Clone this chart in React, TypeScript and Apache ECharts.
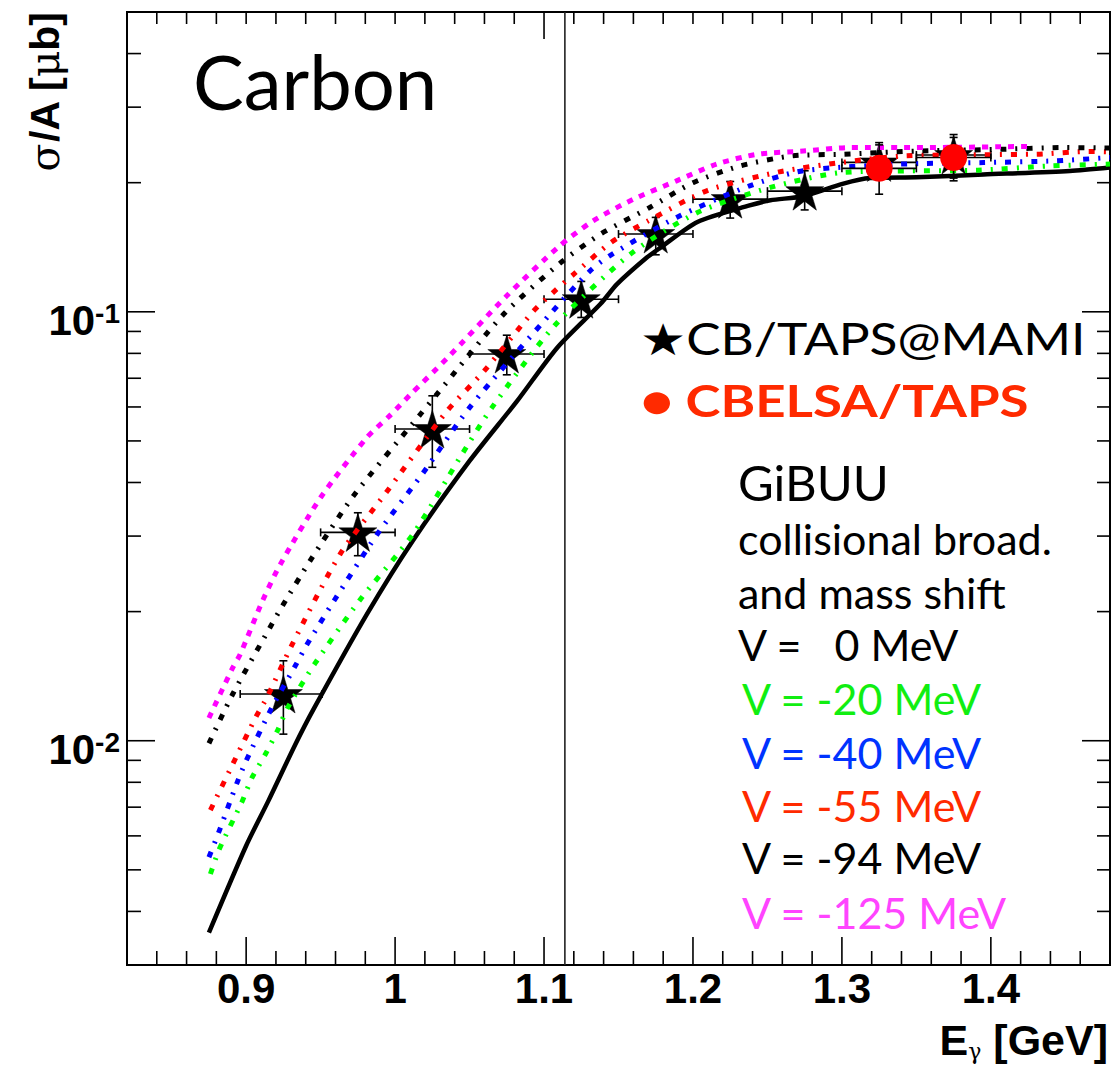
import React, { useEffect, useRef } from "react";
import * as echarts from "echarts";

// Axis ranges
const X_MIN = 0.82;
const X_MAX = 1.48;
const Y_MIN = 0.003;
const Y_MAX = 0.5;
const THRESHOLD_X = 1.114;

// Tick positions
const xMajorTicks = [0.9, 1.0, 1.1, 1.2, 1.3, 1.4];
const xMinorTicks = [0.84, 0.86, 0.88, 0.92, 0.94, 0.96, 0.98, 1.02, 1.04, 1.06, 1.08, 1.12, 1.14, 1.16, 1.18, 1.22, 1.24, 1.26, 1.28, 1.32, 1.34, 1.36, 1.38, 1.42, 1.44, 1.46];
const yMajorTicks = [0.01, 0.1];
const yMinorTicks = [0.004, 0.005, 0.006, 0.007, 0.008, 0.009, 0.02, 0.03, 0.04, 0.05, 0.06, 0.07, 0.08, 0.09, 0.2, 0.3, 0.4];

// GiBUU calculations, V = 0 MeV (solid)
const v0X = [0.875, 0.9, 0.915, 0.933, 0.945, 0.981, 1.012, 1.05, 1.082, 1.109, 1.138, 1.149, 1.169, 1.178, 1.203, 1.238, 1.252, 1.274, 1.301, 1.319, 1.35, 1.395, 1.453, 1.48];
const v0Y = [0.00357, 0.00569, 0.00725, 0.0098, 0.0118, 0.0197, 0.0293, 0.0449, 0.062, 0.0826, 0.1044, 0.116, 0.1338, 0.141, 0.162, 0.177, 0.182, 0.186, 0.199, 0.205, 0.206, 0.209, 0.213, 0.217];

// V = -20 MeV
const v20X = [0.876, 0.882, 0.897, 0.904, 0.913, 0.921, 0.928, 0.946, 0.976, 1.012, 1.044, 1.065, 1.107, 1.158, 1.203, 1.252, 1.301, 1.391, 1.44, 1.48];
const v20Y = [0.00489, 0.00559, 0.00718, 0.00821, 0.00931, 0.01055, 0.01196, 0.0151, 0.0212, 0.0303, 0.046, 0.0598, 0.0928, 0.1363, 0.1704, 0.195, 0.2113, 0.2139, 0.2189, 0.221];

// V = -40 MeV
const v40X = [0.875, 0.882, 0.894, 0.9, 0.917, 0.933, 0.941, 0.959, 0.988, 1.019, 1.05, 1.106, 1.131, 1.144, 1.189, 1.238, 1.274, 1.339, 1.395, 1.444, 1.48];
const v40Y = [0.00535, 0.00617, 0.008, 0.00898, 0.0119, 0.01495, 0.0168, 0.0212, 0.0303, 0.0422, 0.0598, 0.1005, 0.1246, 0.1351, 0.166, 0.1966, 0.2132, 0.2209, 0.2228, 0.2249, 0.229];

// V = -55 MeV
const v55X = [0.876, 0.891, 0.907, 0.914, 0.931, 0.963, 0.994, 1.035, 1.06, 1.093, 1.106, 1.12, 1.145, 1.17, 1.21, 1.258, 1.3, 1.343, 1.431, 1.466, 1.48];
const v55Y = [0.00689, 0.00882, 0.01144, 0.01262, 0.0168, 0.0272, 0.0379, 0.0588, 0.0729, 0.1005, 0.1109, 0.1224, 0.1451, 0.163, 0.192, 0.212, 0.223, 0.231, 0.2331, 0.2365, 0.236];

// V = -94 MeV
const v94X = [0.875, 0.891, 0.916, 0.925, 0.943, 0.972, 1.017, 1.028, 1.073, 1.111, 1.138, 1.171, 1.2, 1.232, 1.267, 1.301, 1.35, 1.402, 1.45, 1.48];
const v94Y = [0.00986, 0.01285, 0.01837, 0.0208, 0.0263, 0.0372, 0.0577, 0.0642, 0.0988, 0.13, 0.1518, 0.1751, 0.2, 0.219, 0.231, 0.233, 0.237, 0.239, 0.2415, 0.241];

// V = -125 MeV
const v125X = [0.875, 0.891, 0.896, 0.911, 0.923, 0.95, 0.981, 0.997, 1.01, 1.035, 1.075, 1.11, 1.133, 1.16, 1.189, 1.216, 1.243, 1.274, 1.305, 1.35, 1.425];
const v125Y = [0.0113, 0.0148, 0.0159, 0.0212, 0.0258, 0.0369, 0.0509, 0.0575, 0.064, 0.078, 0.109, 0.142, 0.163, 0.183, 0.202, 0.221, 0.233, 0.237, 0.2415, 0.2415, 0.243];

// CB/TAPS@MAMI measurement
const mamiX = [0.925, 0.975, 1.025, 1.075, 1.125, 1.175, 1.225, 1.275, 1.325, 1.375];
const mamiY = [0.01285, 0.0306, 0.0533, 0.0797, 0.107, 0.1518, 0.1831, 0.1911, 0.223, 0.232];
const mamiYLo = [0.01036, 0.027, 0.0434, 0.0713, 0.097, 0.1358, 0.1654, 0.1728, 0.205, 0.205];
const mamiYHi = [0.01536, 0.034, 0.0637, 0.0882, 0.1177, 0.166, 0.2013, 0.2132, 0.248, 0.259];
const mamiXLo = [0.896, 0.95, 1.0, 1.05, 1.1, 1.15, 1.2, 1.25, 1.3, 1.35];
const mamiXHi = [0.951, 1.0, 1.05, 1.1, 1.15, 1.2, 1.25, 1.3, 1.35, 1.4];

// CBELSA/TAPS measurement
const elsaX = [1.325, 1.375];
const elsaY = [0.216, 0.229];
const elsaYLo = [0.188, 0.202];
const elsaYHi = [0.245, 0.255];
const elsaXLo = [1.3, 1.35];
const elsaXHi = [1.35, 1.4];

const STAR_PATH =
  "path://M50,0 L61.2,34.5 L97.6,34.5 L68.2,55.9 L79.4,90.5 L50,69.1 L20.6,90.5 L31.8,55.9 L2.4,34.5 L38.8,34.5 Z";

const zip = (xs: number[], ys: number[]) => xs.map((x, i) => [x, ys[i]]);

const errRows = (xs: number[], ys: number[], xl: number[], xh: number[], yl: number[], yh: number[]) =>
  xs.map((x, i) => [x, ys[i], xl[i], xh[i], yl[i], yh[i]]);

const SANS = "Lato, 'DejaVu Sans', sans-serif";
const HELV = "'Liberation Sans', Arial, sans-serif";

function buildTickRows() {
  const rows: number[][] = [];
  xMajorTicks.forEach((x) => {
    rows.push([x, Y_MIN, 0, 28]);
    rows.push([x, Y_MAX, 1, Math.abs(x - 1.1) < 1e-9 ? 27 : 12]);
  });
  xMinorTicks.forEach((x) => {
    rows.push([x, Y_MIN, 0, 14]);
    rows.push([x, Y_MAX, 1, 12]);
  });
  yMajorTicks.forEach((y) => {
    rows.push([X_MIN, y, 2, 28]);
    rows.push([X_MAX, y, 3, 28]);
  });
  yMinorTicks.forEach((y) => {
    rows.push([X_MIN, y, 2, 14]);
    rows.push([X_MAX, y, 3, 13]);
  });
  return rows;
}

function errorBarRenderer(color: string, cap: number) {
  return (_params: any, api: any) => {
    const x = api.value(0);
    const y = api.value(1);
    const l = api.coord([api.value(2), y]);
    const r = api.coord([api.value(3), y]);
    const b = api.coord([x, api.value(4)]);
    const t = api.coord([x, api.value(5)]);
    const style = { stroke: color, lineWidth: 1.6 };
    const seg = (x1: number, y1: number, x2: number, y2: number) => ({
      type: "line",
      shape: { x1, y1, x2, y2 },
      style,
    });
    return {
      type: "group",
      children: [
        seg(l[0], l[1], r[0], r[1]),
        seg(t[0], t[1], b[0], b[1]),
        seg(l[0], l[1] - cap, l[0], l[1] + cap),
        seg(r[0], r[1] - cap, r[0], r[1] + cap),
        seg(t[0] - cap, t[1], t[0] + cap, t[1]),
        seg(b[0] - cap, b[1], b[0] + cap, b[1]),
      ],
    };
  };
}

function curve(name: string, xs: number[], ys: number[], color: string, dash: any, width: number) {
  return {
    name,
    type: "line",
    data: zip(xs, ys),
    showSymbol: false,
    symbol: "none",
    smooth: 0.25,
    z: 4,
    lineStyle: { color, width, type: dash, cap: "butt", join: "round" },
  };
}

function legendText(
  text: string,
  x: number,
  y: number,
  fill: string,
  size: number,
  weight: any = "normal",
  scaleX = 1
) {
  return {
    type: "text",
    x,
    y,
    scaleX,
    silent: true,
    style: {
      text,
      fill,
      fontSize: size,
      fontFamily: SANS,
      fontWeight: weight,
      align: "left",
      verticalAlign: "middle",
    },
  };
}

export default function App() {
  const ref = useRef<HTMLDivElement>(null);

  useEffect(() => {
    if (!ref.current) return;
    const chart = echarts.init(ref.current, null, { renderer: "svg" });

    const option: any = {
      animation: false,
      backgroundColor: "#ffffff",
      grid: {
        left: 127,
        right: 2,
        top: 12,
        bottom: 105,
        show: true,
        borderColor: "#000",
        borderWidth: 2,
        backgroundColor: "transparent",
      },
      xAxis: {
        type: "value",
        min: X_MIN,
        max: X_MAX,
        interval: 0.02,
        axisLine: { show: false, onZero: false },
        axisTick: { show: false },
        splitLine: { show: false },
        axisLabel: {
          margin: 2,
          color: "#000",
          fontSize: 42,
          fontWeight: "bold",
          fontFamily: HELV,
          showMinLabel: false,
          showMaxLabel: false,
          formatter: (v: number) => {
            const r = Math.round(v * 10) / 10;
            return Math.abs(v - r) < 1e-6 && r >= 0.9 && r <= 1.4 ? String(r) : "";
          },
        },
      },
      yAxis: {
        type: "log",
        logBase: 10,
        min: Y_MIN,
        max: Y_MAX,
        axisLine: { show: false },
        axisTick: { show: false },
        splitLine: { show: false },
        minorTick: { show: false },
        axisLabel: {
          margin: 7,
          padding: [18, 0, 0, 0],
          showMinLabel: false,
          showMaxLabel: false,
          formatter: (v: number) => {
            const lg = Math.log10(v);
            const e = Math.round(lg);
            if (Math.abs(lg - e) < 1e-6 && (e === -1 || e === -2)) return `{b|10}{s|${e}}`;
            return "";
          },
          rich: {
            b: { fontSize: 42, fontWeight: "bold", fontFamily: HELV, color: "#000", lineHeight: 42 },
            s: { fontSize: 28, fontWeight: "bold", fontFamily: HELV, color: "#000", verticalAlign: "top", lineHeight: 28 },
          },
        },
      },
      graphic: [
        {
          type: "text",
          x: 193,
          y: 80,
          silent: true,
          style: { text: "Carbon", fill: "#000", fontSize: 76, fontFamily: SANS, align: "left", verticalAlign: "middle" },
        },
        {
          type: "text",
          x: 45,
          y: 12,
          rotation: Math.PI / 2,
          silent: true,
          style: {
            text: "{g|σ}{b|/A [}{g|μ}{b|b]}",
            align: "right",
            verticalAlign: "middle",
            rich: {
              b: { fontSize: 41, fontWeight: "bold", fontFamily: HELV, color: "#000" },
              g: { fontSize: 41, fontWeight: "normal", fontFamily: "'DejaVu Serif', serif", color: "#000" },
            },
          },
        },
        {
          type: "text",
          x: 1108,
          y: 1040,
          silent: true,
          style: {
            text: "{b|E}{s|γ}{b| [GeV]}",
            align: "right",
            verticalAlign: "middle",
            rich: {
              b: { fontSize: 43, fontWeight: "bold", fontFamily: HELV, color: "#000", lineHeight: 44 },
              s: { fontSize: 22, fontWeight: "normal", fontFamily: "'DejaVu Serif', serif", color: "#000", verticalAlign: "bottom", lineHeight: 4 },
            },
          },
        },
        legendText("★CB/TAPS@MAMI", 640, 338, "#000", 44, "normal", 1.17),
        legendText("● CBELSA/TAPS", 641, 400, "#ff2a00", 44, "bold", 1.2),
        legendText("GiBUU", 738, 482, "#000", 49),
        legendText("collisional broad.", 738, 538, "#000", 43),
        legendText("and mass shift", 738, 592, "#000", 43),
        legendText("V =\u00a0\u00a0\u00a00 MeV", 738, 644, "#000", 43),
        legendText("V = -20 MeV", 742, 698, "#11ee11", 43),
        legendText("V = -40 MeV", 742, 752, "#0033ff", 43),
        legendText("V = -55 MeV", 742, 805, "#ff2a00", 43),
        legendText("V = -94 MeV", 742, 857, "#000", 43),
        legendText("V = -125 MeV", 742, 912, "#ff44ff", 43),
      ],
      series: [
        {
          name: "frame ticks",
          type: "custom",
          silent: true,
          clip: false,
          z: 10,
          encode: { x: 0, y: 1 },
          data: buildTickRows(),
          renderItem: (_p: any, api: any) => {
            const p = api.coord([api.value(0), api.value(1)]);
            const side = api.value(2);
            const len = api.value(3);
            const dx = side === 2 ? len : side === 3 ? -len : 0;
            const dy = side === 0 ? -len : side === 1 ? len : 0;
            return {
              type: "line",
              shape: { x1: p[0], y1: p[1], x2: p[0] + dx, y2: p[1] + dy },
              style: { stroke: "#000", lineWidth: 1.6 },
            };
          },
        },
        {
          name: "threshold",
          type: "custom",
          silent: true,
          clip: false,
          z: 1,
          encode: { x: 0, y: 1 },
          data: [[THRESHOLD_X, Y_MIN, Y_MAX]],
          renderItem: (_p: any, api: any) => {
            const b = api.coord([api.value(0), api.value(1)]);
            const t = api.coord([api.value(0), api.value(2)]);
            return {
              type: "line",
              shape: { x1: b[0], y1: b[1], x2: t[0], y2: t[1] },
              style: { stroke: "#222", lineWidth: 1.6 },
            };
          },
        },
        {
          name: "CB/TAPS@MAMI errors",
          type: "custom",
          silent: true,
          z: 2,
          encode: { x: 0, y: 1 },
          data: errRows(mamiX, mamiY, mamiXLo, mamiXHi, mamiYLo, mamiYHi),
          renderItem: errorBarRenderer("#000", 4),
        },
        {
          name: "CB/TAPS@MAMI",
          type: "scatter",
          z: 3,
          symbol: STAR_PATH,
          symbolSize: 38,
          itemStyle: { color: "#000", opacity: 1, borderColor: "#000", borderWidth: 0.5 },
          data: zip(mamiX, mamiY),
        },
        curve("V = 0 MeV", v0X, v0Y, "#000", "solid", 4.5),
        curve("V = -20 MeV", v20X, v20Y, "#00ff00", [6, 9, 2, 9], 5),
        curve("V = -40 MeV", v40X, v40Y, "#0000ff", [6, 9, 2, 9], 5),
        curve("V = -55 MeV", v55X, v55Y, "#ff0000", [6, 9, 2, 9], 5),
        curve("V = -94 MeV", v94X, v94Y, "#000", [6, 9, 2, 9], 5),
        curve("V = -125 MeV", v125X, v125Y, "#ff00ff", [6, 7], 5),
        {
          name: "CBELSA/TAPS errors",
          type: "custom",
          silent: true,
          z: 5,
          encode: { x: 0, y: 1 },
          data: errRows(elsaX, elsaY, elsaXLo, elsaXHi, elsaYLo, elsaYHi),
          renderItem: errorBarRenderer("#000", 4),
        },
        {
          name: "CBELSA/TAPS",
          type: "scatter",
          z: 6,
          symbol: "circle",
          symbolSize: 27,
          itemStyle: { color: "#ff0000", opacity: 1 },
          data: zip(elsaX, elsaY),
        },
      ],
    };

    chart.setOption(option);
    return () => chart.dispose();
  }, []);

  return (
    <div
      ref={ref}
      style={{ position: "fixed", left: 0, top: 0, width: 1112, height: 1070, background: "#fff" }}
    />
  );
}
